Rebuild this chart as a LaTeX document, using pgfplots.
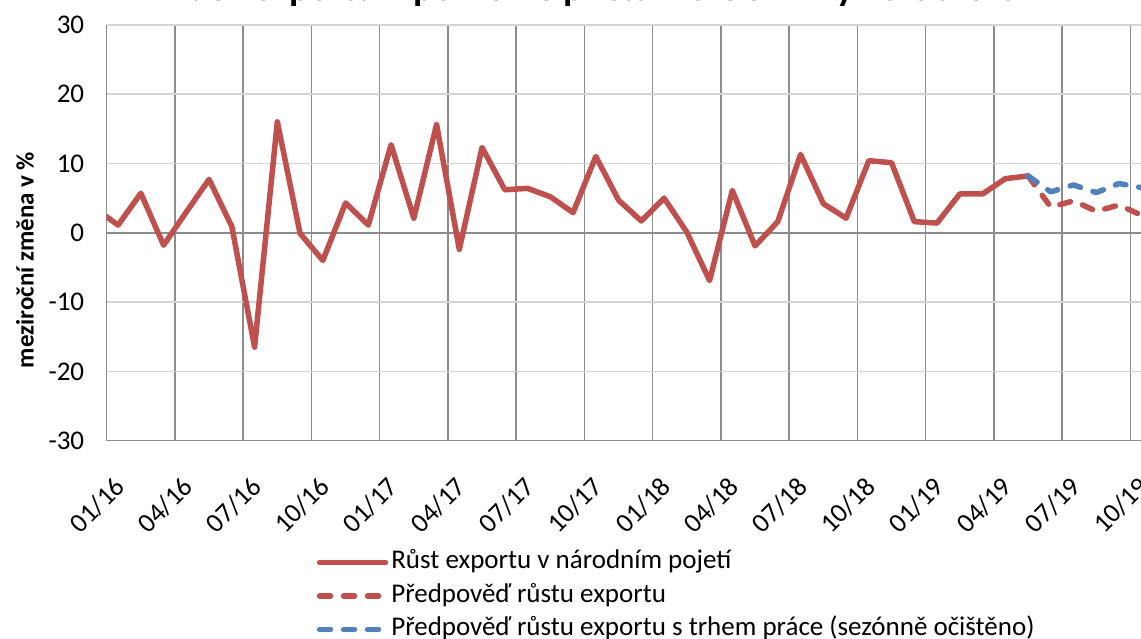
\documentclass[border=0pt]{standalone}
\usepackage{pgfplots}
\pgfplotsset{compat=1.18}
\usepackage{fontspec}
\setmainfont{Carlito}
\definecolor{exred}{HTML}{C0504D}
\definecolor{exblue}{HTML}{4F81BD}
\definecolor{vgrid}{HTML}{8C8C8C}
\definecolor{hgrid}{HTML}{D4D4D4}
\pgfplotstableread{
x v
-0.5 3.5
0.5 1.1
1.5 5.7
2.5 -1.8
3.5 3.0
4.5 7.7
5.5 0.9
6.5 -16.5
7.5 16.0
8.5 -0.1
9.5 -4.0
10.5 4.3
11.5 1.1
12.5 12.7
13.5 2.1
14.5 15.6
15.5 -2.4
16.5 12.3
17.5 6.2
18.5 6.4
19.5 5.2
20.5 2.9
21.5 11.0
22.5 4.7
23.5 1.7
24.5 5.0
25.5 0.1
26.5 -6.9
27.5 6.1
28.5 -1.9
29.5 1.6
30.5 11.3
31.5 4.2
32.5 2.1
33.5 10.4
34.5 10.1
35.5 1.6
36.5 1.4
37.5 5.6
38.5 5.6
39.5 7.8
40.5 8.2
}\actual
\pgfplotstableread{
x v
40.5 8.2
41.5 3.7
42.5 4.6
43.5 3.1
44.5 4.0
45.5 2.5
}\forecast
\pgfplotstableread{
x v
40.5 8.2
41.5 5.9
42.5 6.9
43.5 5.8
44.5 7.1
45.5 6.5
}\forecastlab
\begin{document}
\begin{tikzpicture}
\begin{axis}[
  at={(0pt,0pt)}, anchor=south west,
  width=1092pt, height=415.9pt, scale only axis,
  xmin=0, xmax=48, ymin=-30, ymax=30,
  xtick={0,3,...,45},
  xticklabels={01/16,04/16,07/16,10/16,01/17,04/17,07/17,10/17,01/18,04/18,07/18,10/18,01/19,04/19,07/19,10/19},
  ytick={-30,-20,...,30},
  yticklabels={-30,-20,-10,0,10,20,30},
  extra y ticks={-30,0},
  extra y tick labels={},
  extra y tick style={major y grid style={draw=vgrid, line width=1.6pt}},
  grid=major,
  major x grid style={draw=vgrid, line width=1.6pt},
  major y grid style={draw=hgrid, line width=1.6pt},
  axis line style={draw=none},
  major tick style={draw=none},
  tick label style={font=\fontsize{27}{31}\selectfont},
  yticklabel style={xshift=-19pt},
  xticklabel style={xshift=16pt, yshift=-39pt, rotate=45, anchor=east},
  ylabel={meziroční změna v \%},
  ylabel style={at={(axis description cs:-0.0748,0.4345)}, anchor=center, font=\bfseries\fontsize{25}{29}\selectfont},
  title={Index exportu – pozvolné přistání ale s riziky na obzoru},
  title style={at={(axis description cs:0.4417,1.0428)}, anchor=base, font=\bfseries\fontsize{38}{44}\selectfont},
  legend image code/.code={\draw[#1] (0pt,0pt) -- (66pt,0pt);},
  legend style={at={(axis description cs:0.1924,-0.2652)}, anchor=north west, draw=none, fill=none,
    inner sep=0pt, outer sep=0pt, row sep=10.5pt, column sep=3pt,
    font=\fontsize{27}{31}\selectfont,
    nodes={inner sep=0pt, text height=18pt, text depth=5pt}},
  legend cell align=left,
]
\addplot[exred, line width=5.5pt, line join=round, line cap=round] table[x=x,y=v] {\actual};
\addlegendentry{Růst exportu v národním pojetí}
\addplot[exred, line width=5.5pt, line join=round, line cap=round, dash pattern=on 11pt off 13pt] table[x=x,y=v] {\forecast};
\addlegendentry{Předpověď růstu exportu}
\addplot[exblue, line width=5.5pt, line join=round, line cap=round, dash pattern=on 11pt off 13pt] table[x=x,y=v] {\forecastlab};
\addlegendentry{Předpověď růstu exportu s trhem práce (sezónně očištěno)}
\end{axis}
\pgfresetboundingbox
\useasboundingbox (-106.7pt,-198.3pt) rectangle (1034.3pt,440.7pt);
\end{tikzpicture}
\end{document}
